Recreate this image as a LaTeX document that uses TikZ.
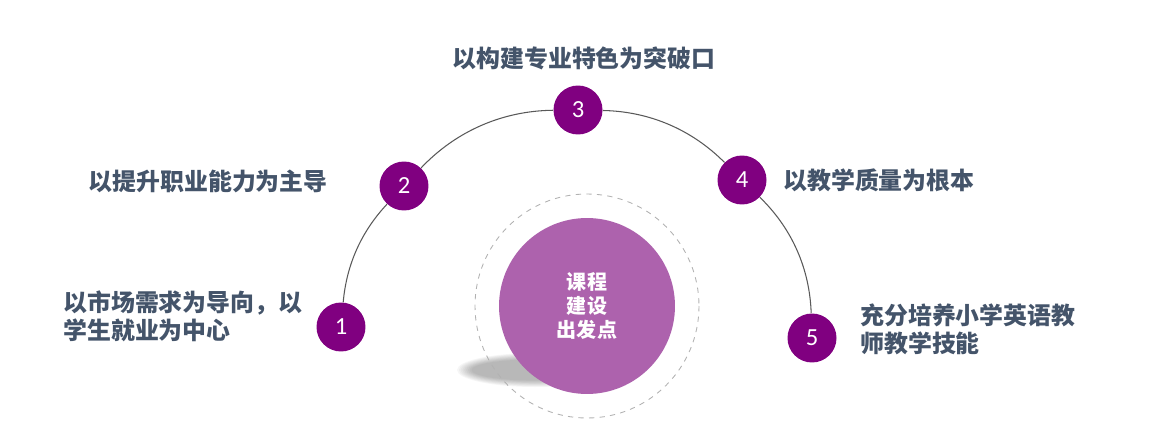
\documentclass[tikz,border=0pt]{standalone}
\usepackage{fontspec}
\setmainfont{Carlito}
\newfontfamily\cjk{Noto Sans CJK SC}
\usepackage{tikz}
\definecolor{txtSlate}{HTML}{44546A}
\definecolor{pointPurple}{HTML}{800080}
\definecolor{corePurple}{HTML}{AD62AD}

\begin{document}
\begin{tikzpicture}[x=0.02cm,y=-0.02cm,
    pt/.style={circle,fill=pointPurple,minimum size=0.98cm,inner sep=0pt,
               text=white,font=\fontsize{14}{15}\selectfont},
    lbl/.style={text=txtSlate,align=left,inner sep=0pt,
                font=\cjk\bfseries\fontsize{13.6}{16}\selectfont},
    arcline/.style={draw=black!65,line width=0.6pt,looseness=0.9},
  ]
    \useasboundingbox (0,0) rectangle (1150,436);

    % soft shadow under the core
    \foreach \s in {1,0.9,...,0.1}
      \fill[black,opacity=0.035] (535,370) ellipse ({60+18*\s} and {9+8*\s});
    \draw[gray!60,dashed,line width=0.5pt] (587,306) circle (112);

    \node[circle,fill=corePurple,minimum size=3.52cm,inner sep=0pt,
          text=white,align=center,
          font=\cjk\bfseries\fontsize{11.4}{13.7}\selectfont] (core) at (587,306)
      {课程\\建设\\出发点};

    \node[pt] (n1) at (341,327) {1};
    \node[pt] (n2) at (404,186) {2};
    \node[pt] (n3) at (578,110) {3};
    \node[pt] (n4) at (742,180) {4};
    \node[pt] (n5) at (812,338) {5};

    \foreach \a/\b/\bend in {n1/n2/19,n2/n3/23,n3/n4/22,n4/n5/22}
      \draw[arcline] (\a) to[bend left=\bend] (\b);

    \node[lbl,anchor=west] (t1) at (63,316)
      {以市场需求为导向，以\\学生就业为中心};
    \node[lbl,anchor=east] (t2) at (328,181) {以提升职业能力为主导};
    \node[lbl] (t3) at (584,58) {以构建专业特色为突破口};
    \node[lbl,anchor=west] (t4) at (783,180) {以教学质量为根本};
    \node[lbl,anchor=west] (t5) at (860,329)
      {充分培养小学英语教\\师教学技能};

  \end{tikzpicture}
\end{document}
